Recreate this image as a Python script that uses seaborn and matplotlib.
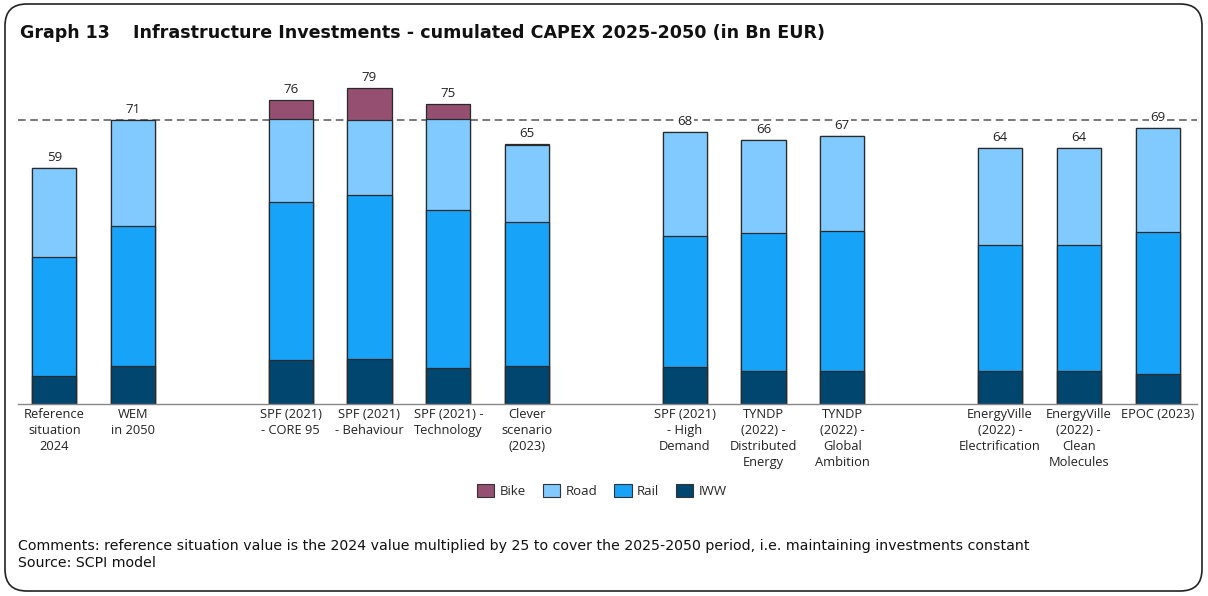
import numpy as np
import pandas as pd
import seaborn as sns
import matplotlib.pyplot as plt
from matplotlib.patches import FancyBboxPatch, Patch

# Scenario labels (empty strings mark spacing between scenario groups)
scenarios = [
    "Reference\nsituation\n2024", "WEM\nin 2050", "",
    "SPF (2021)\n- CORE 95", "SPF (2021)\n- Behaviour", "SPF (2021) -\nTechnology",
    "Clever\nscenario\n(2023)", " ",
    "SPF (2021)\n- High\nDemand", "TYNDP\n(2022) -\nDistributed\nEnergy",
    "TYNDP\n(2022) -\nGlobal\nAmbition", "  ",
    "EnergyVille\n(2022) -\nElectrification", "EnergyVille\n(2022) -\nClean\nMolecules",
    "EPOC (2023)",
]
gap_slots = ["", " ", "  "]

# Cumulated CAPEX 2025-2050 per mode (Bn EUR), one value per real scenario
iww  = [7.0, 9.5, 11.0, 11.25, 8.9, 9.4, 9.2, 8.3, 8.3, 8.3, 8.3, 7.5]
rail = [29.75, 35.1, 39.5, 41.0, 39.5, 36.2, 32.7, 34.4, 34.9, 31.5, 31.5, 35.4]
road = [22.25, 26.4, 20.75, 18.75, 22.85, 19.2, 26.1, 23.3, 23.8, 24.2, 24.2, 26.1]
bike = [0.0, 0.0, 4.75, 8.0, 3.75, 0.2, 0.0, 0.0, 0.0, 0.0, 0.0, 0.0]

modes = ["Bike", "Road", "Rail", "IWW"]
colors = {"Bike": "#944F71", "Road": "#80CAFF", "Rail": "#17A3F8", "IWW": "#01466F"}

real = [s for s in scenarios if s not in gap_slots]
df = pd.DataFrame({"scenario": real, "IWW": iww, "Rail": rail, "Road": road, "Bike": bike})
df["c_iww"] = df["IWW"]
df["c_rail"] = df["c_iww"] + df["Rail"]
df["c_road"] = df["c_rail"] + df["Road"]
df["c_bike"] = df["c_road"] + df["Bike"]
wem_level = float(df.loc[1, "c_bike"])

sns.set_theme(style="white")
plt.rcParams["font.family"] = ["Open Sans", "DejaVu Sans"]

fig = plt.figure(figsize=(12.08, 5.96), dpi=100)
ax = fig.add_axes([18 / 1208, 192 / 596, 1179 / 1208, 334 / 596])

# Reference line at the WEM 2050 level
ax.axhline(wem_level, color="#555555", lw=1.1, ls=(0, (5, 3)), zorder=0)

# Stacked bars: draw cumulative heights from the tallest layer down
layers = [("c_bike", "Bike"), ("c_road", "Road"), ("c_rail", "Rail"), ("c_iww", "IWW")]
for col, mode in layers:
    sns.barplot(data=df, x="scenario", y=col, order=scenarios, color=colors[mode],
                saturation=1, width=0.56, edgecolor="#2a2a2a", linewidth=0.9,
                ax=ax, zorder=2)

# Totals above the bars
pos = {s: i for i, s in enumerate(scenarios)}
for s, tot in zip(df["scenario"], df["c_bike"]):
    ax.annotate(f"{tot:.0f}", (pos[s], tot), xytext=(0, 3), textcoords="offset points",
                ha="center", va="bottom", fontsize=9.5, color="#222222",
                bbox=dict(boxstyle="square,pad=0.1", fc="white", ec="none"), zorder=3)

ax.set_xlim(-0.46, len(scenarios) - 0.5)
ax.set_ylim(0, 83.5)
ax.set_xlabel("")
ax.set_ylabel("")
ax.set_yticks([])
ax.set_xticks(range(len(scenarios)))
ax.set_xticklabels(scenarios, fontsize=9.3, color="#222222", linespacing=1.3)
ax.tick_params(axis="x", length=0, pad=3)
for side in ["top", "right", "left"]:
    ax.spines[side].set_visible(False)
ax.spines["bottom"].set_color("#888888")
ax.spines["bottom"].set_linewidth(1)

# Legend
handles = [Patch(facecolor=colors[m], edgecolor="#333333", linewidth=0.8, label=m) for m in modes]
fig.legend(handles=handles, loc="center", bbox_to_anchor=(602 / 1208, 1 - 491 / 596),
           ncol=4, frameon=False, fontsize=9.5, handlelength=1.3, handleheight=1.1,
           handletextpad=0.4, columnspacing=1.3)

# Title
fig.text(20 / 1208, 1 - 33 / 596, "Graph 13", fontsize=12.5, fontweight="bold",
         va="center", ha="left", color="#111111", family="DejaVu Sans")
fig.text(133 / 1208, 1 - 33 / 596,
         "Infrastructure Investments - cumulated CAPEX 2025-2050 (in Bn EUR)",
         fontsize=12.6, fontweight="bold", va="center", ha="left", color="#111111",
         family="DejaVu Sans")

# Footer
fig.text(18 / 1208, 1 - 546 / 596,
         "Comments: reference situation value is the 2024 value multiplied by 25 to cover "
         "the 2025-2050 period, i.e. maintaining investments constant",
         fontsize=10.2, va="center", ha="left", color="#111111", family="DejaVu Sans")
fig.text(18 / 1208, 1 - 563 / 596, "Source: SCPI model",
         fontsize=10.2, va="center", ha="left", color="#111111", family="DejaVu Sans")

# Rounded frame around the figure
frame = FancyBboxPatch((5 / 1208, 5 / 596), 1197 / 1208, 587 / 596,
                       boxstyle="round,pad=0,rounding_size=0.018",
                       transform=fig.transFigure, fill=False, ec="#222222", lw=1.2,
                       mutation_aspect=1208 / 596)
fig.patches.append(frame)

fig.savefig("out.png", dpi=100)
